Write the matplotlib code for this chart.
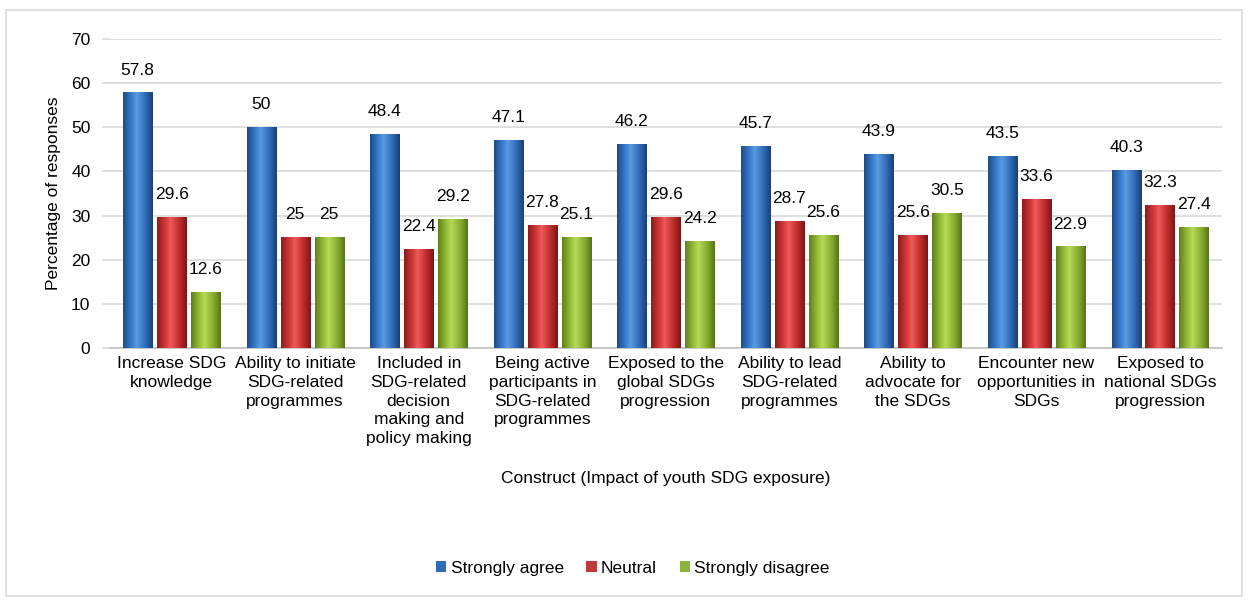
import numpy as np
import matplotlib
matplotlib.use("Agg")
import matplotlib.pyplot as plt
from matplotlib.colors import LinearSegmentedColormap
from matplotlib.patches import Rectangle

plt.rcParams['font.family'] = ['Liberation Sans', 'DejaVu Sans']

categories = [
    "Increase SDG\nknowledge",
    "Ability to initiate\nSDG-related\nprogrammes",
    "Included in\nSDG-related\ndecision\nmaking and\npolicy making",
    "Being active\nparticipants in\nSDG-related\nprogrammes",
    "Exposed to the\nglobal SDGs\nprogression",
    "Ability to lead\nSDG-related\nprogrammes",
    "Ability to\nadvocate for\nthe SDGs",
    "Encounter new\nopportunities in\nSDGs",
    "Exposed to\nnational SDGs\nprogression",
]
strongly_agree = [57.8, 50, 48.4, 47.1, 46.2, 45.7, 43.9, 43.5, 40.3]
neutral = [29.6, 25, 22.4, 27.8, 29.6, 28.7, 25.6, 33.6, 32.3]
strongly_disagree = [12.6, 25, 29.2, 25.1, 24.2, 25.6, 30.5, 22.9, 27.4]
series_names = ["Strongly agree", "Neutral", "Strongly disagree"]
yticks = [0, 10, 20, 30, 40, 50, 60, 70]

FS = 12.5

fig = plt.figure(figsize=(12.48, 6.01), dpi=100)
ax = fig.add_axes([0.088, 0.421, 0.891, 0.514])

# outer frame
fig.patches.append(Rectangle((0.005, 0.008), 0.99, 0.975, transform=fig.transFigure,
                             fill=False, edgecolor='#d9d9d9', linewidth=1.2))

x = np.arange(len(categories))
w = 0.235
gap = 0.04
offsets = [-(w + gap), 0, (w + gap)]
series = [strongly_agree, neutral, strongly_disagree]
grads = [
    ['#1d4a85', '#3a7fd0', '#5b9ae0', '#2f6cb8', '#1a3f75'],
    ['#8a1c1c', '#d63a3a', '#ef5a5a', '#c02c2c', '#7a1616'],
    ['#5f7f1a', '#98c23a', '#b6d95a', '#86ad2e', '#55731a'],
]
legend_colors = ['#2e6bb8', '#c0393b', '#8db43a']

grad = np.linspace(0, 1, 256).reshape(1, -1)
for i, (vals, gc) in enumerate(zip(series, grads)):
    cmap = LinearSegmentedColormap.from_list(f"g{i}", [(0, gc[0]), (0.3, gc[1]), (0.45, gc[2]), (0.75, gc[3]), (1, gc[4])])
    bars = ax.bar(x + offsets[i], vals, width=w, color=legend_colors[i], label=series_names[i], zorder=2)
    for b, v in zip(bars, vals):
        x0, y0, bw, bh = b.get_x(), b.get_y(), b.get_width(), b.get_height()
        ax.imshow(grad, extent=(x0, x0 + bw, y0, y0 + bh), aspect='auto', cmap=cmap, zorder=3)
        ax.annotate(f"{v:g}", xy=(x0 + bw / 2, y0 + bh), xytext=(0, 11), textcoords='offset points',
                    ha='center', va='bottom', fontsize=FS, color='black', zorder=4)
    for b in bars:
        b.set_facecolor('none')
        b.set_edgecolor('none')

ax.set_xlim(-0.5, len(categories) - 0.5)
ax.set_ylim(0, 70)
ax.set_yticks(yticks)
ax.set_xticks(x)
ax.set_xticklabels(categories, fontsize=FS, linespacing=1.3, va='top')
ax.tick_params(axis='x', length=0, pad=6)
ax.tick_params(axis='y', length=6, color='#d9d9d9', width=1.2, labelsize=FS, pad=8)
ax.grid(axis='y', color='#d9d9d9', linewidth=1.2, zorder=0)
ax.set_axisbelow(True)
for s in ['top', 'right', 'left']:
    ax.spines[s].set_visible(False)
ax.spines['bottom'].set_color('#bfbfbf')
ax.spines['bottom'].set_linewidth(1.2)
ax.set_ylabel("Percentage of responses", fontsize=FS)
ax.yaxis.set_label_coords(-0.044, 0.5)
ax.set_xlabel("Construct (Impact of youth SDG exposure)", fontsize=FS, labelpad=18)

handles = [Rectangle((0, 0), 1, 1, facecolor=c) for c in legend_colors]
fig.legend(handles, series_names, loc='center', bbox_to_anchor=(0.507, 0.054), ncol=3, frameon=False,
           fontsize=FS, handlelength=0.6, handleheight=0.6, handletextpad=0.25, columnspacing=1.3)

fig.savefig("out.png", dpi=100)
